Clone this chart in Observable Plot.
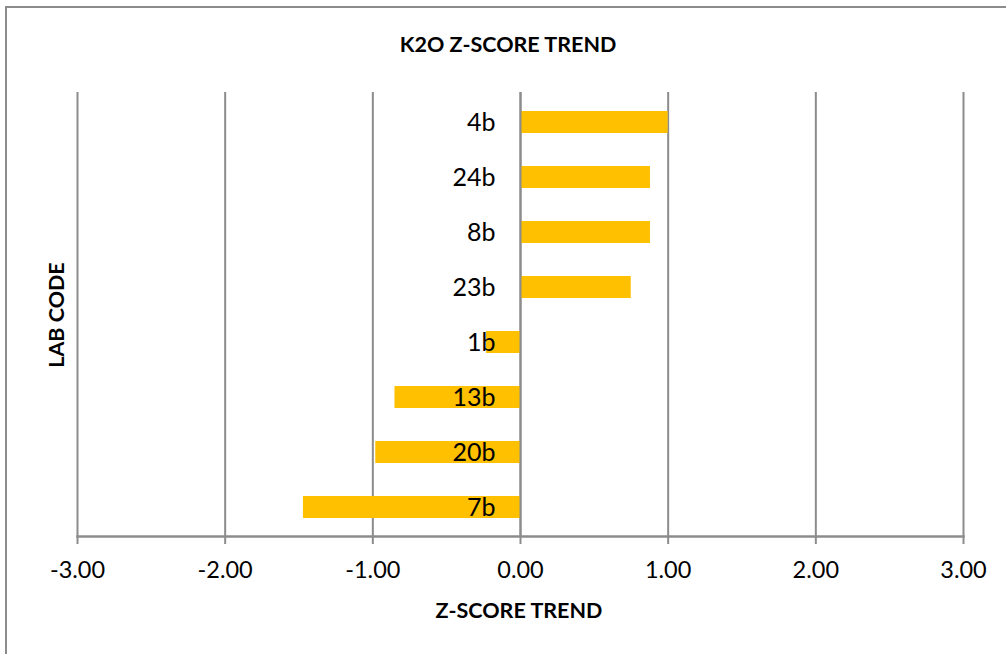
<!DOCTYPE html>
<html>
<head>
<meta charset="utf-8">
<script src="https://cdn.jsdelivr.net/npm/d3@7"></script>
<script src="https://cdn.jsdelivr.net/npm/@observablehq/plot@0.6"></script>
<style>
  body { margin: 0; background: #fff; }
  #wrap { position: relative; width: 1006px; height: 654px; overflow: hidden; font-family: Lato, "Open Sans", sans-serif; }
  #border { position: absolute; left: 5px; top: 6px; width: 1100px; height: 700px; border-top: 2px solid #8c8c8c; border-left: 2px solid #8c8c8c; }
  .t { position: absolute; font-weight: bold; color: #000; white-space: nowrap; }
  #title { left: 0; width: 1016px; top: 31px; text-align: center; font-size: 21.5px; }
  #xtitle { left: 0; width: 1038px; top: 597px; text-align: center; font-size: 21.5px; }
  #ytitle { left: 56px; top: 315px; transform: translate(-50%, -50%) rotate(-90deg); font-size: 21.5px; }
  svg { position: absolute; left: 0; top: 0; }
</style>
</head>
<body>
<div id="wrap">
  <div id="border"></div>
  <div id="chart"></div>
  <div class="t" id="title">K2O Z-SCORE TREND</div>
  <div class="t" id="xtitle">Z-SCORE TREND</div>
  <div class="t" id="ytitle">LAB CODE</div>
</div>
<script>
const labCodes = ["4b", "24b", "8b", "23b", "1b", "13b", "20b", "7b"];
const zScores = [1.00, 0.88, 0.88, 0.75, -0.23, -0.85, -0.98, -1.47];
const xTicks = [-3, -2, -1, 0, 1, 2, 3];

const data = labCodes.map((lab, i) => ({lab, z: zScores[i]}));

const chart = Plot.plot({
  width: 1006,
  height: 654,
  marginLeft: 77,
  marginRight: 43,
  marginTop: 92,
  marginBottom: 118,
  style: {fontFamily: "Lato, 'Open Sans', sans-serif", background: "transparent"},
  x: {domain: [-3, 3], ticks: xTicks, tickFormat: d => d.toFixed(2)},
  y: {domain: labCodes, paddingInner: 0.6, paddingOuter: 0.3, axis: null},
  marks: [
    Plot.gridX(xTicks, {stroke: "#8c8c8c", strokeOpacity: 1, strokeWidth: 2}),
    Plot.barX(data, {x: "z", y: "lab", fill: "#FFC000"}),
    Plot.ruleX([0], {stroke: "#8c8c8c", strokeWidth: 2}),
    Plot.frame({anchor: "bottom", stroke: "#8c8c8c", strokeWidth: 2.5}),
    Plot.axisX({ticks: xTicks, tickFormat: d => d.toFixed(2), tickSize: 8, tickPadding: 17, stroke: "#8c8c8c", strokeWidth: 2, fontSize: 23.5, fill: "#000", label: null}),
    Plot.text(data, {x: 0, y: "lab", text: "lab", textAnchor: "end", dx: -25, fontSize: 25, fill: "#000"})
  ]
});
document.getElementById("chart").appendChild(chart);
</script>
</body>
</html>
